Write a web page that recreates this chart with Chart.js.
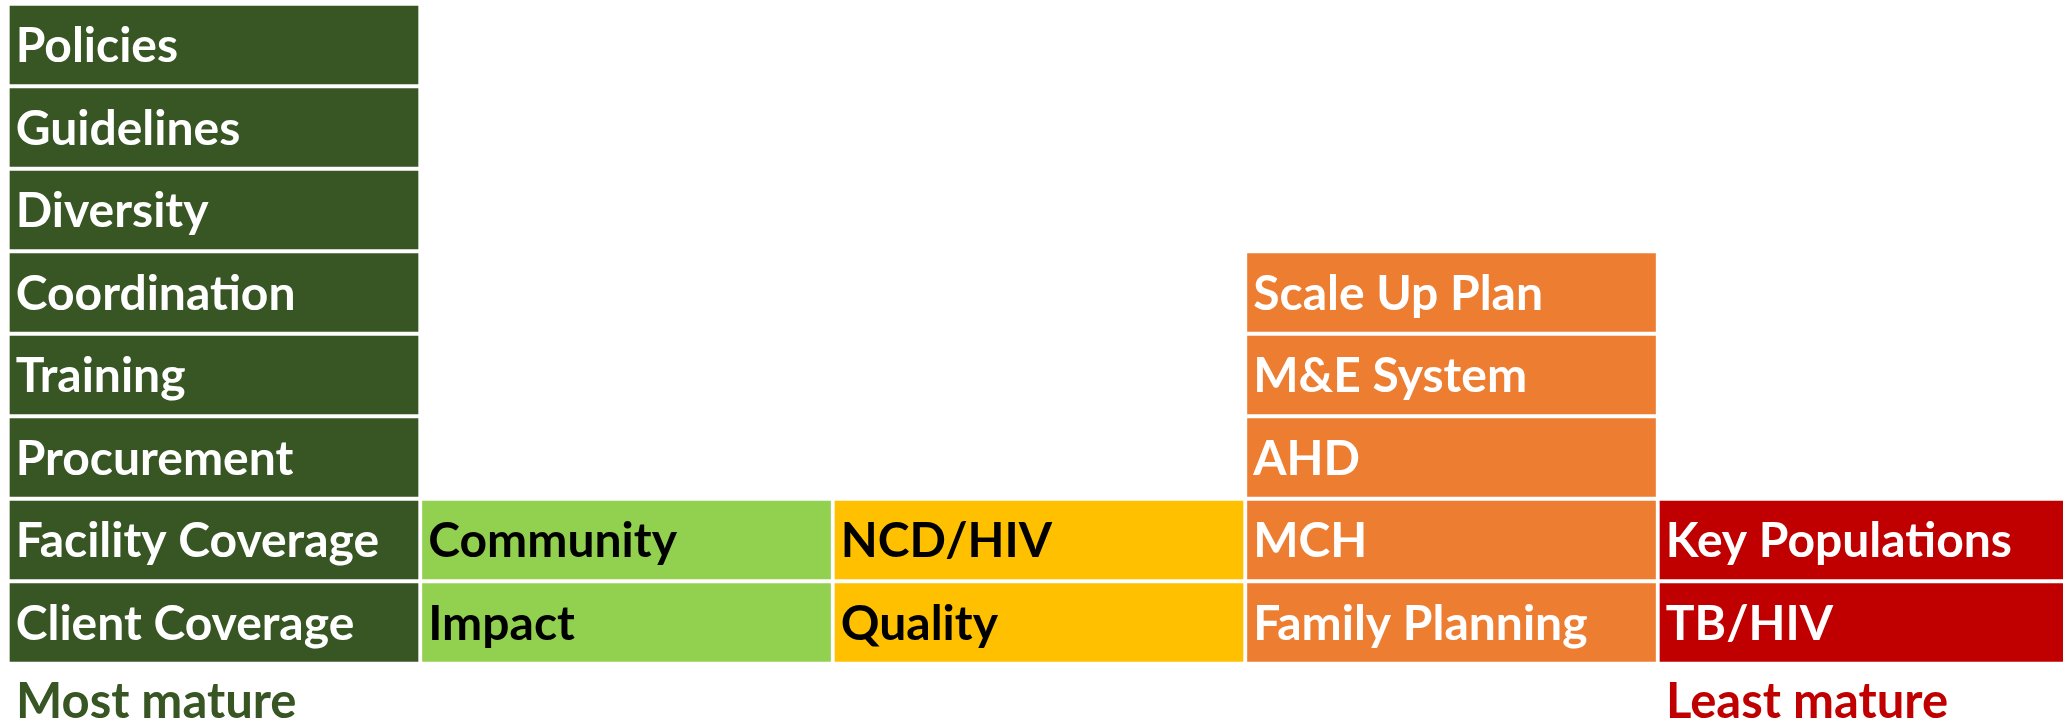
<!DOCTYPE html>
<html>
<head>
<meta charset="utf-8">
<script src="https://cdn.jsdelivr.net/npm/chart.js@4/dist/chart.umd.min.js"></script>
<style>
  html, body { margin: 0; padding: 0; background: #fff; overflow: hidden; }
  #wrap { position: absolute; left: 0; top: 0; width: 2072px; height: 720px; }
</style>
</head>
<body>
<div id="wrap"><canvas id="chart-maturity"></canvas></div>
<script>
// columns, most mature on the left
const categories = ['Most mature', '', '', '', 'Least mature'];
const categoryColors = ['#375623', '#92D050', '#FFC000', '#ED7D31', '#C00000'];
const textColors = ['#ffffff', '#000000', '#000000', '#ffffff', '#ffffff'];

// items per column, listed from the bottom up
const darkGreenItems = ['Client Coverage', 'Facility Coverage', 'Procurement', 'Training', 'Coordination', 'Diversity', 'Guidelines', 'Policies'];
const lightGreenItems = ['Impact', 'Community'];
const yellowItems = ['Quality', 'NCD/HIV'];
const orangeItems = ['Family Planning', 'MCH', 'AHD', 'M&E System', 'Scale Up Plan'];
const redItems = ['TB/HIV', 'Key Populations'];

const columns = [darkGreenItems, lightGreenItems, yellowItems, orangeItems, redItems];
const maxLevel = Math.max(...columns.map(c => c.length));

// one dataset per stack level, each box counts 1
const datasets = [];
for (let lvl = 0; lvl < maxLevel; lvl++) {
  datasets.push({
    label: 'Level ' + (lvl + 1),
    data: columns.map(c => (lvl < c.length ? 1 : null)),
    items: columns.map(c => c[lvl] || ''),
    backgroundColor: categoryColors,
    borderColor: '#ffffff',
    borderWidth: 2.25,
    borderSkipped: false,
    barPercentage: 1,
    categoryPercentage: 1
  });
}

const FONT = 'Lato, "Open Sans", sans-serif';

const boxLabels = {
  id: 'boxLabels',
  afterDatasetsDraw(chart) {
    const ctx = chart.ctx;
    ctx.save();
    ctx.font = 'bold 48px ' + FONT;
    ctx.textAlign = 'left';
    ctx.textBaseline = 'alphabetic';
    chart.data.datasets.forEach((ds, di) => {
      const meta = chart.getDatasetMeta(di);
      meta.data.forEach((bar, i) => {
        if (ds.data[i] == null) return;
        const left = bar.x - bar.width / 2;
        const mid = (bar.y + bar.base) / 2;
        ctx.fillStyle = textColors[i];
        ctx.fillText(ds.items[i], left + 8, mid + 17);
      });
    });
    ctx.restore();
  }
};

new Chart(document.getElementById('chart-maturity'), {
  type: 'bar',
  data: { labels: categories, datasets: datasets },
  options: {
    responsive: true,
    maintainAspectRatio: false,
    animation: false,
    layout: { padding: { left: 7.75, top: 3.75, right: 1.75, bottom: 0 } },
    plugins: {
      legend: { display: false },
      tooltip: { enabled: false }
    },
    scales: {
      x: {
        stacked: true,
        grid: { display: false, drawTicks: false },
        border: { display: false },
        afterFit: scale => {
          scale.height = 56.25;
          scale.paddingLeft = 0;
          scale.paddingRight = 0;
        },
        ticks: {
          align: 'start',
          labelOffset: -198,
          padding: 9,
          autoSkip: false,
          maxRotation: 0,
          color: c => (c.index === 0 ? '#375623' : '#C00000'),
          font: { family: FONT, size: 49, weight: 'bold' }
        }
      },
      y: {
        stacked: true,
        display: false,
        min: 0,
        max: maxLevel
      }
    }
  },
  plugins: [boxLabels]
});
</script>
</body>
</html>
